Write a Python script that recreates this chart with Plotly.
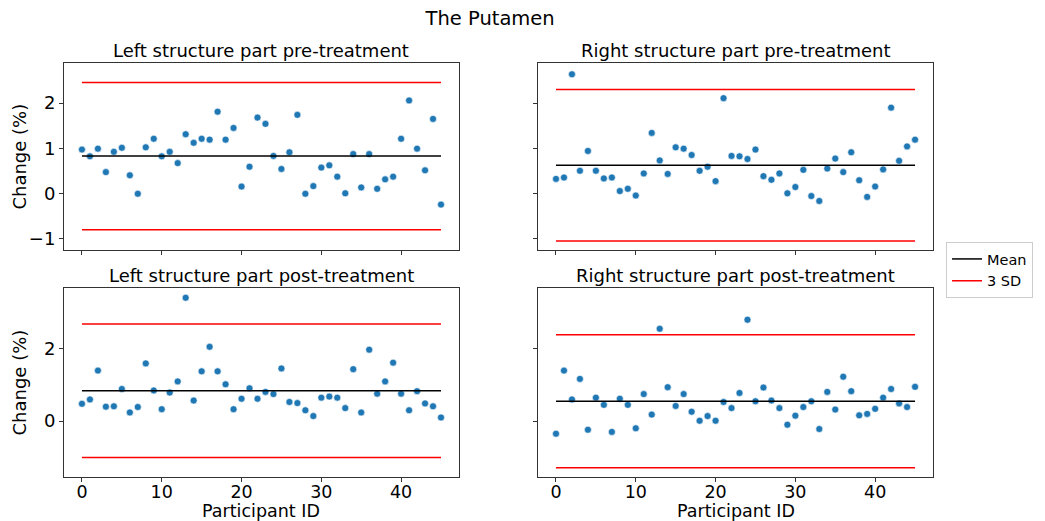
import numpy as np
import plotly.graph_objects as go

# Participant IDs and per-participant percentage change values
participants = list(range(46))

left_pre = [0.97, 0.82, 0.99, 0.47, 0.92, 1.01, 0.40, -0.01, 1.02, 1.21,
            0.82, 0.92, 0.67, 1.31, 1.12, 1.21, 1.19, 1.81, 1.19, 1.45,
            0.15, 0.59, 1.68, 1.54, 0.83, 0.54, 0.91, 1.74, -0.01, 0.16,
            0.57, 0.62, 0.37, 0.00, 0.87, 0.13, 0.87, 0.10, 0.31, 0.37,
            1.21, 2.06, 0.99, 0.51, 1.65, -0.25]

right_pre = [0.32, 0.35, 2.64, 0.50, 0.94, 0.50, 0.33, 0.35, 0.05, 0.10,
             -0.05, 0.44, 1.34, 0.73, 0.43, 1.02, 0.99, 0.85, 0.50, 0.59,
             0.27, 2.11, 0.83, 0.82, 0.76, 0.97, 0.38, 0.30, 0.44, 0.00,
             0.14, 0.52, -0.06, -0.17, 0.55, 0.77, 0.47, 0.91, 0.29, -0.08,
             0.15, 0.53, 1.90, 0.72, 1.04, 1.19]

left_post = [0.48, 0.60, 1.40, 0.40, 0.41, 0.89, 0.24, 0.39, 1.60, 0.85,
             0.33, 0.79, 1.10, 3.42, 0.57, 1.38, 2.06, 1.38, 1.02, 0.33,
             0.62, 0.91, 0.62, 0.81, 0.75, 1.46, 0.53, 0.50, 0.30, 0.14,
             0.65, 0.68, 0.65, 0.36, 1.44, 0.24, 1.98, 0.76, 1.10, 1.62,
             0.76, 0.30, 0.83, 0.49, 0.41, 0.10]

right_post = [-0.35, 1.40, 0.60, 1.17, -0.24, 0.65, 0.45, -0.30, 0.62, 0.45,
              -0.20, 0.75, 0.18, 2.56, 0.94, 0.42, 0.75, 0.26, 0.01, 0.14,
              0.01, 0.53, 0.36, 0.78, 2.81, 0.55, 0.93, 0.57, 0.36, -0.10,
              0.15, 0.39, 0.55, -0.22, 0.81, 0.32, 1.23, 0.83, 0.16, 0.20,
              0.34, 0.65, 0.89, 0.49, 0.39, 0.95]

panel_titles = ["Left structure part pre-treatment",
                "Right structure part pre-treatment",
                "Left structure part post-treatment",
                "Right structure part post-treatment"]

x_ticks = [0, 10, 20, 30, 40]
top_y_ticks = [-1, 0, 1, 2]
bottom_y_ticks = [0, 2]

FONT = "DejaVu Sans"
BLUE = "#1f77b4"
FS = 18

series = [left_pre, right_pre, left_post, right_post]

# axis domains (paper coordinates)
x_domains = [[0.0, 0.4545], [0.5455, 1.0]]
y_domains = [[0.548, 1.0], [0.0, 0.4565]]
y_ranges = [[-1.26, 2.89], [-1.55, 3.69]]

fig = go.Figure()

for i, (title, vals) in enumerate(zip(panel_titles, series)):
    row, col = divmod(i, 2)
    suffix = "" if i == 0 else str(i + 1)
    xref, yref = "x" + suffix, "y" + suffix
    v = np.asarray(vals)
    mean = v.mean()
    sd = v.std(ddof=1)
    x0, x1 = participants[0], participants[-1]

    fig.add_trace(go.Scatter(
        x=participants, y=vals, mode="markers", xaxis=xref, yaxis=yref,
        marker=dict(color=BLUE, size=7, line=dict(color="white", width=0.6)),
        showlegend=False, hoverinfo="x+y"))
    fig.add_trace(go.Scatter(
        x=[x0, x1], y=[mean, mean], mode="lines", xaxis=xref, yaxis=yref,
        line=dict(color="black", width=1.5), name="Mean",
        showlegend=(i == 0), legendgroup="mean"))
    for k, lim in enumerate([mean + 3 * sd, mean - 3 * sd]):
        fig.add_trace(go.Scatter(
            x=[x0, x1], y=[lim, lim], mode="lines", xaxis=xref, yaxis=yref,
            line=dict(color="red", width=1.5), name="3 SD",
            showlegend=(i == 0 and k == 0), legendgroup="sd"))

    axis_common = dict(showline=True, mirror=True, linecolor="#333333",
                       linewidth=1, showgrid=False, zeroline=False,
                       ticks="outside", ticklen=4, tickcolor="#333333",
                       automargin=False)
    xa = dict(domain=x_domains[col], range=[-2.25, 47.25],
              tickvals=x_ticks, showticklabels=(row == 1),
              ticklabelstandoff=-5, anchor=yref,
              tickfont=dict(family=FONT, size=17.5, color="black"),
              **axis_common)
    ya = dict(domain=y_domains[row], range=y_ranges[row],
              tickvals=top_y_ticks if row == 0 else bottom_y_ticks,
              showticklabels=(col == 0), anchor=xref,
              tickfont=dict(family=FONT, size=FS, color="black"),
              **axis_common)
    fig.layout["xaxis" + suffix] = xa
    fig.layout["yaxis" + suffix] = ya

    # panel title
    fig.add_annotation(
        text=title, xref="paper", yref="paper",
        x=sum(x_domains[col]) / 2, y=y_domains[row][1],
        xanchor="center", yanchor="bottom", yshift=0, showarrow=False,
        font=dict(family=FONT, size=FS, color="black"))

    # axis titles
    if row == 1:
        fig.add_annotation(
            text="Participant ID", xref="paper", yref="paper",
            x=sum(x_domains[col]) / 2, y=0, xanchor="center",
            yanchor="middle", yshift=-33.5, showarrow=False, borderpad=0,
            font=dict(family=FONT, size=17.5, color="black"))
    if col == 0:
        fig.add_annotation(
            text="Change (%)", xref="paper", yref="paper",
            x=0, y=sum(y_domains[row]) / 2, xanchor="center",
            yanchor="middle", xshift=-44, textangle=-90, showarrow=False,
            font=dict(family=FONT, size=FS, color="black"))

fig.update_layout(
    width=1045, height=521,
    margin=dict(l=64, r=101, t=63, b=44),
    paper_bgcolor="white", plot_bgcolor="white",
    font=dict(family=FONT, color="black"),
    title=dict(text="The Putamen", x=0.469, xanchor="center",
               y=0.965, yanchor="middle",
               font=dict(family=FONT, size=19.5, color="black")),
    legend=dict(x=1.015, y=0.5, xanchor="left", yanchor="middle",
                bordercolor="#cccccc", borderwidth=1, bgcolor="white",
                font=dict(family=FONT, size=14.5, color="black"),
                tracegroupgap=0),
)

fig.write_html("out.html")
